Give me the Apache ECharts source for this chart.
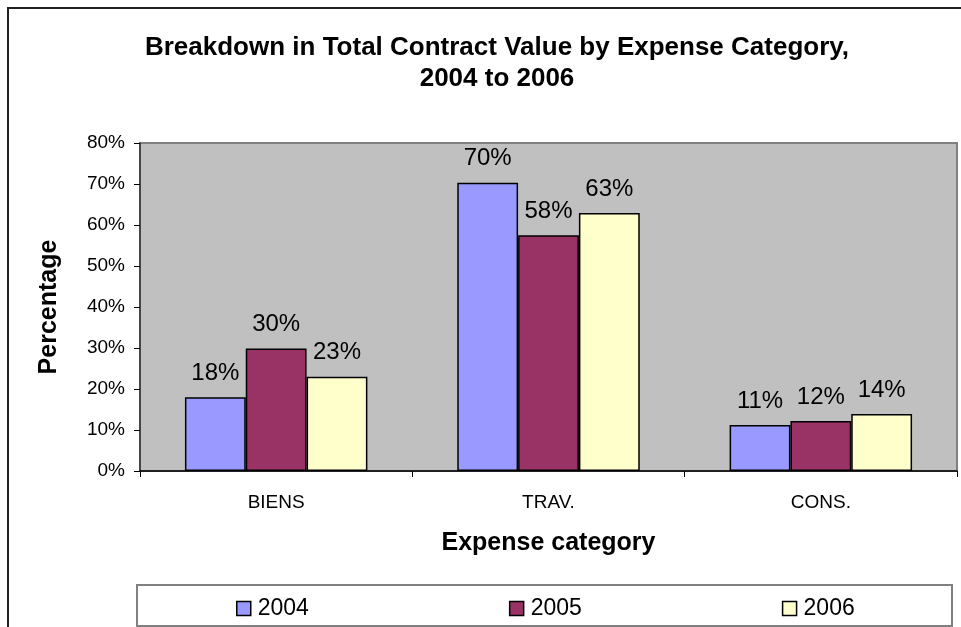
<!DOCTYPE html>
<html>
<head>
    <meta charset="utf-8">
    <script src="https://cdn.jsdelivr.net/npm/echarts@6/dist/echarts.min.js"></script>
    <style>
        html, body { margin: 0; padding: 0; background: #fff; }
        #chart { width: 961px; height: 627px; }
    </style>
</head>
<body>
<div id="chart"></div>
<script>
  // data (percent)
  var categories = ['BIENS', 'TRAV.', 'CONS.'];
  var years = ['2004', '2005', '2006'];
  var values2004 = [18, 70.3, 11.2];
  var values2005 = [29.9, 57.5, 12.2];
  var values2006 = [23, 62.9, 13.9];
  var yTicks = [0, 10, 20, 30, 40, 50, 60, 70, 80];

  var colors = ['#9999FF', '#993366', '#FFFFCC'];
  var font = 'Liberation Sans, Arial, sans-serif';

  function barSeries(name, data, color) {
    return {
      name: name,
      type: 'bar',
      data: data,
      barGap: 0,
      barCategoryGap: '33%',
      itemStyle: { color: color, borderColor: '#000', borderWidth: 1.5 },
      label: {
        show: true,
        position: 'top',
        distance: 12,
        color: '#000',
        fontFamily: font,
        fontSize: 24,
        formatter: function (p) { return Math.round(p.value) + '%'; }
      }
    };
  }

  var myChart = echarts.init(document.getElementById('chart'));
  var option = {
    animation: false,
    backgroundColor: '#fff',
    color: colors,
    title: {
      text: 'Breakdown in Total Contract Value by Expense Category,\n2004 to 2006',
      left: 492,
      top: 27,
      textAlign: 'center',
      textStyle: { fontFamily: font, fontSize: 26, fontWeight: 'bold', color: '#000', lineHeight: 31 }
    },
    legend: {
      data: years,
      left: 236,
      top: 597,
      padding: 0,
      itemWidth: 14,
      itemHeight: 14,
      itemGap: 200,
      icon: 'rect',
      itemStyle: { borderColor: '#000', borderWidth: 1.5 },
      textStyle: { fontFamily: font, fontSize: 23, color: '#000', padding: [0, 0, 0, 2] }
    },
    grid: {
      left: 140,
      right: 4,
      top: 143,
      bottom: 156,
      show: true,
      backgroundColor: '#C0C0C0',
      borderColor: '#808080',
      borderWidth: 2
    },
    xAxis: {
      type: 'category',
      data: categories,
      name: 'Expense category',
      nameLocation: 'middle',
      nameGap: 60,
      nameTextStyle: { fontFamily: font, fontSize: 25, fontWeight: 'bold', color: '#000' },
      axisLine: { lineStyle: { color: '#000', width: 1.5 } },
      axisTick: { show: true, length: 6, lineStyle: { color: '#000' } },
      axisLabel: { fontFamily: font, fontSize: 19, color: '#000', margin: 22 }
    },
    yAxis: {
      type: 'value',
      min: yTicks[0],
      max: yTicks[yTicks.length - 1],
      interval: 10,
      name: 'Percentage',
      nameLocation: 'middle',
      nameGap: 78,
      nameTextStyle: { fontFamily: font, fontSize: 25, fontWeight: 'bold', color: '#000' },
      splitLine: { show: false },
      axisLine: { show: true, lineStyle: { color: '#333', width: 1.5 } },
      axisTick: { show: true, length: 6, lineStyle: { color: '#000' } },
      axisLabel: {
        fontFamily: font, fontSize: 19, color: '#000', margin: 15,
        formatter: function (v) { return v + '%'; }
      }
    },
    graphic: [
      // outer chart border
      { type: 'rect', shape: { x: 8, y: 8, width: 1000, height: 700 },
        style: { fill: 'none', stroke: '#222', lineWidth: 2 }, silent: true },
      // legend box
      { type: 'rect', shape: { x: 137, y: 585, width: 815, height: 41 },
        style: { fill: 'none', stroke: '#808080', lineWidth: 2 }, silent: true }
    ],
    series: [
      barSeries(years[0], values2004, colors[0]),
      barSeries(years[1], values2005, colors[1]),
      barSeries(years[2], values2006, colors[2])
    ]
  };
  myChart.setOption(option);
</script>
</body>
</html>
